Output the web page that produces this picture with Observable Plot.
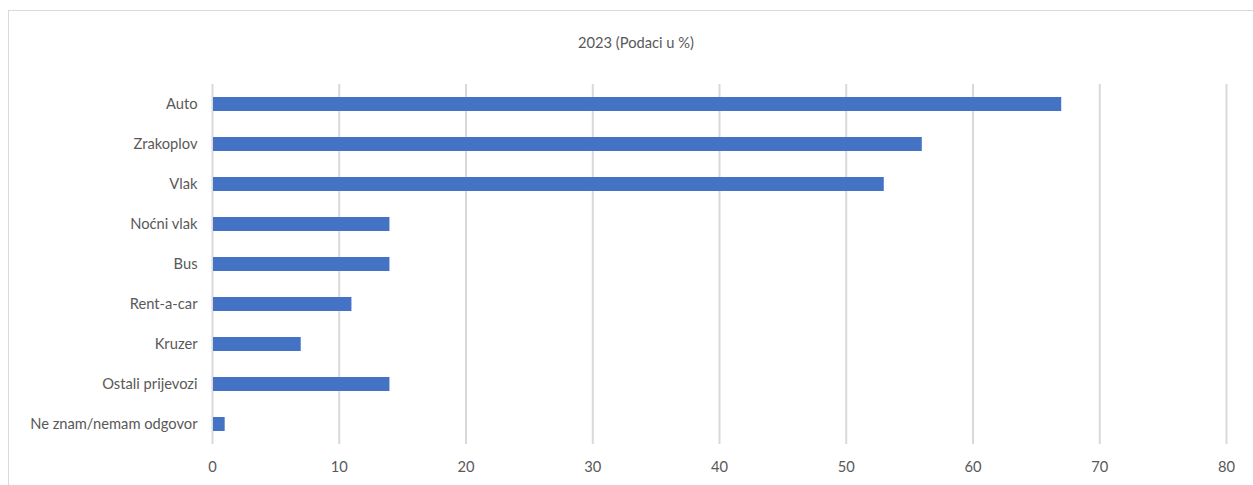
<!DOCTYPE html>
<html>
<head>
<meta charset="utf-8">
<script src="https://cdn.jsdelivr.net/npm/d3@7"></script>
<script src="https://cdn.jsdelivr.net/npm/@observablehq/plot@0.6"></script>
<style>
  html, body { margin: 0; padding: 0; background: #fff; }
  #wrap { position: relative; width: 1253px; height: 485px; overflow: hidden; font-family: Lato, "Open Sans", sans-serif; }
  #frame { position: absolute; left: 8px; top: 10px; width: 1260px; height: 500px; border: 1.5px solid #d9d9d9; box-sizing: border-box; }
  #title { position: absolute; left: 0; width: 1272px; top: 33px; text-align: center; font-size: 14.7px; color: #595959; }
  #chart { position: absolute; left: 0; top: 0; }
</style>
</head>
<body>
<div id="wrap">
  <div id="frame"></div>
  <div id="title">2023 (Podaci u %)</div>
  <div id="chart"></div>
</div>
<script>
const categories = ["Auto", "Zrakoplov", "Vlak", "Noćni vlak", "Bus", "Rent-a-car", "Kruzer", "Ostali prijevozi", "Ne znam/nemam odgovor"];
const values = [67, 56, 53, 14, 14, 11, 7, 14, 1];
const xTicks = [0, 10, 20, 30, 40, 50, 60, 70, 80];

const data = categories.map((c, i) => ({category: c, value: values[i]}));

const plot = Plot.plot({
  width: 1253,
  height: 485,
  marginLeft: 212,
  marginRight: 27,
  marginTop: 84,
  marginBottom: 41,
  style: {fontFamily: "Lato, 'Open Sans', sans-serif", fontSize: "14.7px", color: "#595959", background: "transparent"},
  x: {domain: [0, 80], ticks: xTicks, tickSize: 0, tickPadding: 17, label: null},
  y: {domain: categories, paddingInner: 0.65, paddingOuter: 0.325, tickSize: 0, tickPadding: 15, label: null},
  marks: [
    Plot.ruleX(xTicks, {stroke: "#d9d9d9", strokeWidth: 2, strokeOpacity: 1}),
    Plot.barX(data, {x1: 0, x2: "value", y: "category", fill: "#4472c4", insetLeft: 1}),
    Plot.axisX({ticks: xTicks, tickSize: 0, tickPadding: 17, stroke: "none", fill: "#595959"}),
    Plot.axisY({tickSize: 0, tickPadding: 15, fill: "#595959"})
  ]
});
document.getElementById("chart").appendChild(plot);
</script>
</body>
</html>
